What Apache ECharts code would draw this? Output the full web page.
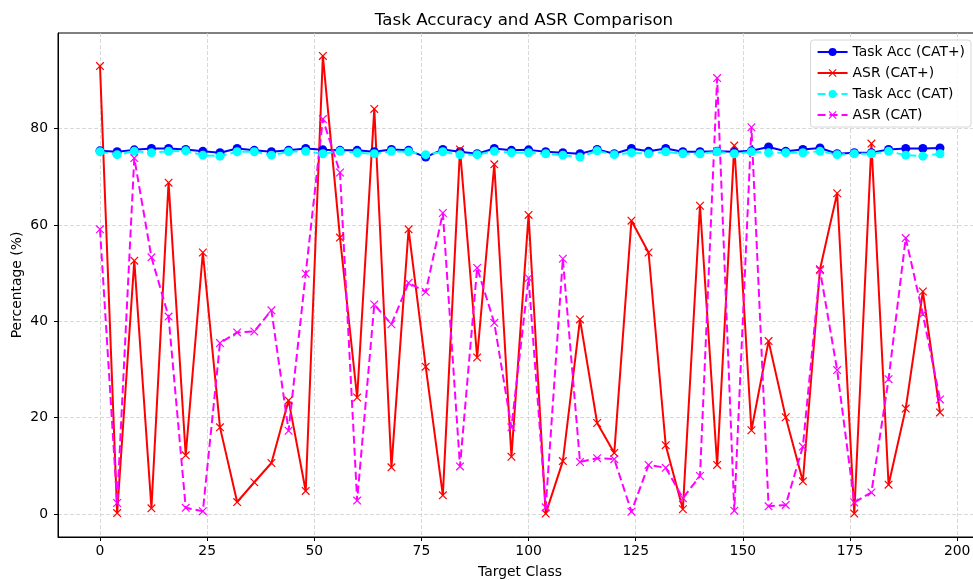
<!DOCTYPE html>
<html>
<head>
<meta charset="utf-8">
<title>Task Accuracy and ASR Comparison</title>
<script src="https://cdn.jsdelivr.net/npm/echarts@6/dist/echarts.min.js"></script>
<style>
    html, body { margin: 0; padding: 0; background: #fff; }
    #main { width: 973px; height: 580px; }
</style>
</head>
<body>
<div id="main"></div>
<script>
// target classes (x)
var classes = [0, 4, 8, 12, 16, 20, 24, 28, 32, 36, 40, 44, 48,
    52, 56, 60, 64, 68, 72, 76, 80, 84, 88, 92, 96,
    100, 104, 108, 112, 116, 120, 124, 128, 132, 136, 140, 144,
    148, 152, 156, 160, 164, 168, 172, 176, 180, 184, 188, 192, 196];

var accCatPlus = [75.4, 75.2, 75.6, 75.9, 75.9, 75.7, 75.3, 75.0, 75.9, 75.5, 75.2, 75.5, 75.9,
    75.6, 75.5, 75.5, 75.2, 75.7, 75.5, 74.1, 75.7, 75.2, 74.8, 75.9, 75.5,
    75.6, 75.2, 75.0, 74.8, 75.7, 74.8, 75.9, 75.3, 75.9, 75.2, 75.2, 75.3,
    75.2, 75.4, 76.2, 75.3, 75.7, 76.0, 74.8, 75.0, 75.0, 75.7, 75.9, 75.9, 76.0];

var asrCatPlus = [93.0, 0.2, 52.6, 1.2, 68.8, 12.2, 54.3, 18.0, 2.5, 6.6, 10.6, 23.6, 4.8,
    95.1, 57.4, 24.2, 84.1, 9.7, 59.1, 30.6, 3.9, 75.7, 32.5, 72.6, 11.9,
    62.1, 0.1, 11.0, 40.4, 18.9, 12.7, 60.9, 54.3, 14.3, 1.0, 64.0, 10.2,
    76.5, 17.4, 35.9, 20.1, 6.8, 50.8, 66.6, 0.1, 76.9, 6.1, 21.9, 46.2, 21.1];

var accCat = [75.2, 74.6, 75.3, 75.0, 75.3, 75.4, 74.5, 74.3, 75.2, 75.2, 74.5, 75.2, 75.3,
    74.8, 75.3, 75.0, 74.8, 75.3, 75.2, 74.6, 75.2, 74.6, 74.6, 75.3, 75.0,
    75.0, 74.8, 74.5, 74.1, 75.4, 74.6, 75.0, 74.8, 75.2, 74.8, 74.8, 75.2,
    74.8, 75.2, 75.0, 75.0, 75.0, 75.3, 74.6, 74.8, 74.8, 75.3, 74.5, 74.3, 74.8];

var asrCat = [59.1, 2.3, 73.9, 53.3, 41.0, 1.3, 0.6, 35.5, 37.7, 37.9, 42.3, 17.3, 49.9,
    82.0, 70.9, 2.8, 43.5, 39.4, 48.0, 46.1, 62.5, 9.9, 51.1, 39.7, 18.0,
    49.0, 1.4, 53.0, 10.8, 11.6, 11.4, 0.5, 10.2, 9.6, 3.3, 7.9, 90.5,
    0.7, 80.3, 1.6, 1.9, 14.0, 50.6, 29.9, 2.4, 4.5, 28.0, 57.3, 41.5, 23.8];

var xTicks = [0, 25, 50, 75, 100, 125, 150, 175, 200];
var yTicks = [0, 20, 40, 60, 80];

var font = 'DejaVu Sans';
// matplotlib-like 'x' marker as a filled path
var xMark = 'path://M0,1L1,0L10,9L9,10Z M9,0L10,1L1,10L0,9Z';

function pairs(vals) {
    return classes.map(function (c, i) { return [c, vals[i]]; });
}

window.onload = function () {
    var myChart = echarts.init(document.getElementById('main'), null, { renderer: 'canvas' });

    var gridLine = { show: true, lineStyle: { color: '#cfcfcf', width: 0.8, type: [4, 2] } };

    var option = {
        animation: false,
        backgroundColor: '#fff',
        title: {
            text: 'Task Accuracy and ASR Comparison',
            left: 519,
            textAlign: 'center',
            top: 7,
            textStyle: { fontFamily: font, fontSize: 16.7, fontWeight: 'normal', color: '#000' }
        },
        // 图例
        legend: {
            orient: 'vertical',
            right: 2,
            top: 40,
            itemWidth: 30,
            itemHeight: 10,
            itemGap: 7,
            padding: [5, 6, 5, 6],
            selectedMode: false,
            backgroundColor: 'rgba(255,255,255,0.8)',
            borderColor: '#d6d6d6',
            borderWidth: 1,
            borderRadius: 3,
            textStyle: { fontFamily: font, fontSize: 13.9, color: '#000', lineHeight: 14 },
            data: ['Task Acc (CAT+)', 'ASR (CAT+)', 'Task Acc (CAT)', 'ASR (CAT)']
        },
        grid: {
            left: 58,
            right: -9,
            top: 33,
            bottom: 43,
            outerBoundsMode: 'none',
            containLabel: false,
            show: true,
            borderColor: '#000',
            borderWidth: 1,
            backgroundColor: 'transparent'
        },
        xAxis: {
            type: 'value',
            min: -9.8,
            max: 205.8,
            name: 'Target Class',
            nameLocation: 'middle',
            nameGap: 28,
            nameTextStyle: { fontFamily: font, fontSize: 13.9, color: '#000' },
            axisLine: { show: true, onZero: false, lineStyle: { color: '#000', width: 1 } },
            axisTick: { show: true, inside: false, length: 4, customValues: xTicks, lineStyle: { color: '#000' } },
            axisLabel: { customValues: xTicks, margin: 7, fontFamily: font, fontSize: 13.9, color: '#000' },
            splitLine: gridLine
        },
        yAxis: {
            type: 'value',
            min: -4.76,
            max: 99.86,
            name: 'Percentage (%)',
            nameLocation: 'middle',
            nameGap: 34,
            nameMoveOverlap: false,
            nameTextStyle: { fontFamily: font, fontSize: 13.9, color: '#000' },
            axisLine: { show: true, onZero: false, lineStyle: { color: '#000', width: 1 } },
            axisTick: { show: true, inside: false, length: 4, customValues: yTicks, lineStyle: { color: '#000' } },
            axisLabel: { customValues: yTicks, margin: 10, fontFamily: font, fontSize: 13.9, color: '#000' },
            splitLine: gridLine
        },
        series: [
            {
                name: 'Task Acc (CAT+)',
                type: 'line',
                data: pairs(accCatPlus),
                symbol: 'circle',
                symbolSize: 9,
                lineStyle: { color: '#0000ff', width: 2 },
                itemStyle: { color: '#0000ff' }
            },
            {
                name: 'ASR (CAT+)',
                type: 'line',
                data: pairs(asrCatPlus),
                symbol: xMark,
                symbolSize: 8.5,
                lineStyle: { color: '#ff0000', width: 2 },
                itemStyle: { color: '#ff0000' }
            },
            {
                name: 'Task Acc (CAT)',
                type: 'line',
                data: pairs(accCat),
                symbol: 'circle',
                symbolSize: 9,
                lineStyle: { color: '#00ffff', width: 2, type: [8, 4] },
                itemStyle: { color: '#00ffff' }
            },
            {
                name: 'ASR (CAT)',
                type: 'line',
                data: pairs(asrCat),
                symbol: xMark,
                symbolSize: 8.5,
                lineStyle: { color: '#ff00ff', width: 2, type: [8, 4] },
                itemStyle: { color: '#ff00ff' }
            }
        ]
    };

    myChart.setOption(option);
};
</script>
</body>
</html>
